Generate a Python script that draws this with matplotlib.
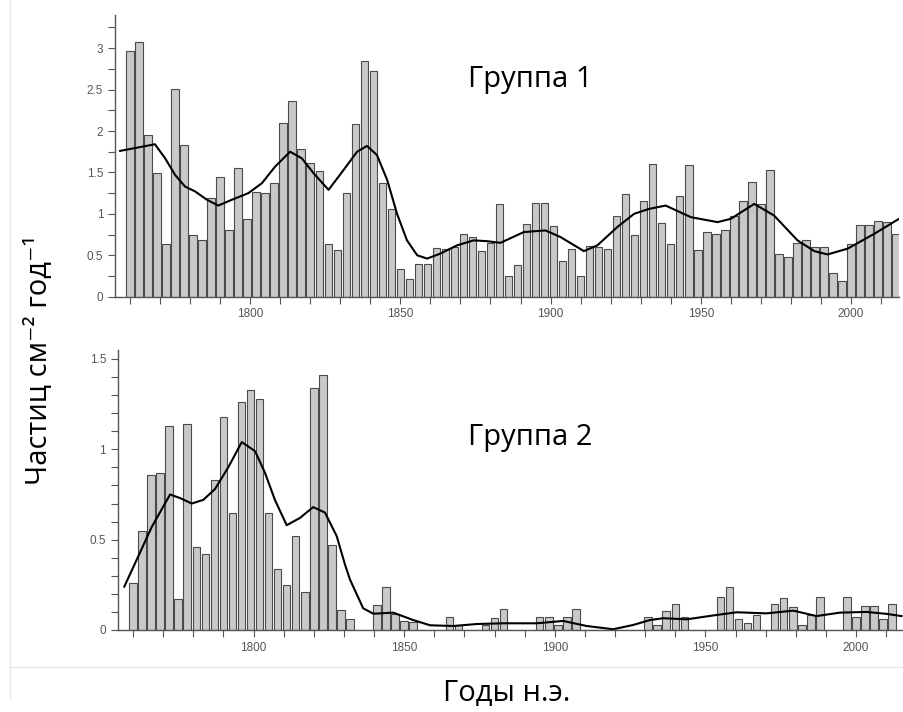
import numpy as np
import matplotlib
matplotlib.use('Agg')
import matplotlib.pyplot as plt
from matplotlib.ticker import MultipleLocator
from matplotlib.lines import Line2D

plt.rcParams['font.family'] = ['Liberation Sans', 'DejaVu Sans']

# bar years (every 3 years)
years = np.arange(1760, 2016, 3)

group1 = [2.96, 3.07, 1.95, 1.49, 0.63, 2.51, 1.83, 0.74, 0.69, 1.19,
          1.45, 0.80, 1.55, 0.94, 1.26, 1.25, 1.37, 2.10, 2.36, 1.78,
          1.61, 1.52, 0.64, 0.56, 1.25, 2.08, 2.84, 2.73, 1.37, 1.06,
          0.33, 0.21, 0.39, 0.40, 0.59, 0.57, 0.60, 0.76, 0.72, 0.55,
          0.65, 1.12, 0.25, 0.38, 0.88, 1.13, 1.13, 0.85, 0.43, 0.58,
          0.25, 0.61, 0.60, 0.58, 0.97, 1.24, 0.74, 1.15, 1.60, 0.89,
          0.63, 1.22, 1.59, 0.56, 0.78, 0.76, 0.80, 0.98, 1.16, 1.39,
          1.12, 1.53, 0.52, 0.48, 0.65, 0.69, 0.60, 0.60, 0.28, 0.19,
          0.63, 0.87, 0.87, 0.91, 0.90, 0.76]

group2 = [0.26, 0.55, 0.86, 0.87, 1.13, 0.17, 1.14, 0.46, 0.42, 0.83,
          1.18, 0.65, 1.26, 1.33, 1.28, 0.65, 0.34, 0.25, 0.52, 0.21,
          1.34, 1.41, 0.47, 0.11, 0.06, 0, 0, 0.14, 0.24, 0.09,
          0.05, 0.045, 0, 0, 0, 0.074, 0.03, 0, 0, 0.028,
          0.065, 0.114, 0, 0, 0, 0.074, 0.074, 0.028, 0.07, 0.118,
          0, 0, 0, 0, 0, 0, 0, 0.074, 0.03, 0.107,
          0.142, 0.074, 0, 0, 0, 0.18, 0.236, 0.06, 0.04, 0.083,
          0, 0.142, 0.175, 0.125, 0.028, 0.083, 0.18, 0, 0, 0.185,
          0.074, 0.135, 0.135, 0.06, 0.144, 0]

# smoothed curves
line1_x = [1756.7, 1768.3, 1771.7, 1775.0, 1778.3, 1781.7, 1785.6, 1789.4, 1793.9, 1799.4,
           1803.9, 1808.3, 1813.3, 1817.2, 1821.1, 1826.1, 1831.1, 1835.6, 1838.9, 1842.2,
           1845.6, 1848.9, 1852.2, 1855.6, 1858.9, 1863.3, 1868.9, 1874.4, 1878.9, 1883.3,
           1891.1, 1898.3, 1903.3, 1911.1, 1915.6, 1922.2, 1927.8, 1932.8, 1938.3, 1946.7,
           1955.6, 1960, 1967.8, 1974.4, 1982.2, 1987.8, 1992.2, 1998.9, 2007.8, 2016]
line1_y = [1.76, 1.84, 1.67, 1.47, 1.33, 1.27, 1.17, 1.10, 1.17, 1.25,
           1.37, 1.57, 1.75, 1.67, 1.49, 1.29, 1.53, 1.75, 1.82, 1.71,
           1.41, 1.00, 0.68, 0.50, 0.46, 0.52, 0.62, 0.68, 0.67, 0.65,
           0.78, 0.80, 0.72, 0.55, 0.62, 0.84, 1.00, 1.06, 1.10, 0.96,
           0.90, 0.94, 1.12, 0.98, 0.68, 0.55, 0.51, 0.58, 0.76, 0.94]

line2_x = [1757.1, 1761.8, 1766.2, 1772.3, 1775.6, 1779.5, 1783.3, 1787.2, 1791.6, 1796.1,
           1800.5, 1803.8, 1807.1, 1811.0, 1815.4, 1819.8, 1823.7, 1827.6, 1830.4, 1832.0,
           1836.4, 1839.8, 1846.4, 1853.0, 1858.6, 1866.3, 1874.1, 1882.9, 1894.0, 1902.8,
           1910.6, 1919.4, 1926.1, 1931.6, 1936.0, 1943.8, 1953.7, 1960.4, 1970.3, 1979.2,
           1986.9, 1994.7, 2003.5, 2010.2, 2015.1]
line2_y = [0.24, 0.41, 0.57, 0.75, 0.73, 0.70, 0.72, 0.78, 0.90, 1.04,
           0.99, 0.87, 0.72, 0.58, 0.62, 0.68, 0.65, 0.52, 0.36, 0.28,
           0.12, 0.09, 0.096, 0.055, 0.026, 0.022, 0.033, 0.037, 0.037, 0.05,
           0.022, 0.004, 0.028, 0.055, 0.065, 0.059, 0.083, 0.098, 0.092, 0.107,
           0.077, 0.096, 0.10, 0.089, 0.077]

fig = plt.figure(figsize=(9.04, 7.12), dpi=100)
ax1 = fig.add_axes([0.1272, 0.5833, 0.8673, 0.3956])
ax2 = fig.add_axes([0.1305, 0.1152, 0.8684, 0.3933])

gray = '#555555'


def style(ax, ymax, ystep, yminor):
    ax.set_xlim(1755, 2016)
    ax.set_ylim(0, ymax)
    for s in ['top', 'right']:
        ax.spines[s].set_visible(False)
    for s in ['left', 'bottom']:
        ax.spines[s].set_color(gray)
        ax.spines[s].set_linewidth(1.0)
    ax.xaxis.set_major_locator(MultipleLocator(50))
    ax.xaxis.set_minor_locator(MultipleLocator(10))
    ax.yaxis.set_major_locator(MultipleLocator(ystep))
    ax.yaxis.set_minor_locator(MultipleLocator(yminor))
    ax.tick_params(which='both', direction='out', length=5, width=0.8,
                   color=gray, labelcolor='#555555', labelsize=8.5)
    ax.yaxis.set_major_formatter(plt.FuncFormatter(lambda v, p: '%g' % v))


ax1.bar(years, group1, width=2.5, color='#c9c9c9', edgecolor='#4a4a4a', linewidth=0.8)
ax1.plot(line1_x, line1_y, color='black', lw=1.5)
style(ax1, 3.4, 0.5, 0.25)

ax2.bar(years, group2, width=2.5, color='#c9c9c9', edgecolor='#4a4a4a', linewidth=0.8)
ax2.plot(line2_x, line2_y, color='black', lw=1.5)
style(ax2, 1.55, 0.5, 0.1)
ax2.set_xlim(1755, 2015.6)

# text placed in pixel coordinates of the 904x712 picture
W, H = 904, 712
big = ['Open Sans', 'DejaVu Sans']
fig.text(530 / W, 1 - 80 / H, 'Группа 1', fontsize=21, family=big,
         ha='center', va='center')
fig.text(530 / W, 1 - 437 / H, 'Группа 2', fontsize=21, family=big,
         ha='center', va='center')
fig.text(507 / W, 1 - 693 / H, 'Годы н.э.', fontsize=21, family=big,
         ha='center', va='center')
fig.text(40 / W, 1 - 360 / H, 'Частиц см⁻² год⁻¹', fontsize=21,
         family=big, rotation=90, ha='center', va='center')

# faint border of the pasted picture
fig.add_artist(Line2D([10 / W, 10 / W], [0.02, 1.0], transform=fig.transFigure,
                      color='#e6e6e6', lw=1))
fig.add_artist(Line2D([10 / W, 1.0], [1 - 667 / H, 1 - 667 / H], transform=fig.transFigure,
                      color='#e6e6e6', lw=1))

fig.savefig('out.png', dpi=100)
